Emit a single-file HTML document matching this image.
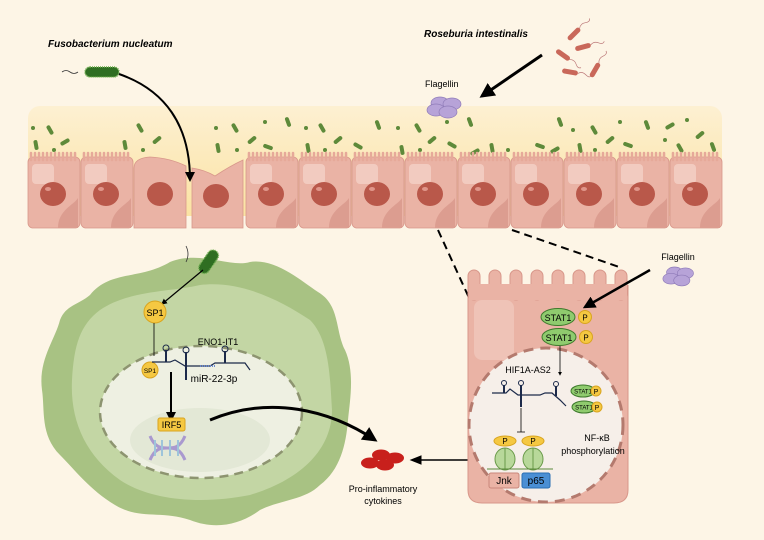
<!DOCTYPE html>
<html><head><meta charset="utf-8"><style>
html,body{margin:0;padding:0;background:#fdf5e6;}
svg{display:block;font-family:"Liberation Sans",sans-serif;}
</style></head><body>
<svg width="764" height="540" viewBox="0 0 764 540">
<defs>
<marker id="ah" viewBox="0 0 10 10" refX="8" refY="5" markerWidth="5" markerHeight="5" orient="auto"><path d="M0,0L10,5L0,10z" fill="#000"/></marker>
<marker id="ahs" viewBox="0 0 10 10" refX="8" refY="5" markerWidth="8" markerHeight="8" orient="auto"><path d="M0,1L10,5L0,9z" fill="#000"/></marker>
<linearGradient id="muc" x1="0" y1="0" x2="0" y2="1"><stop offset="0" stop-color="#fdf0d2"/><stop offset="1" stop-color="#fbe3a3"/></linearGradient>
<g id="cell"><rect x="0" y="157" width="52" height="71" rx="5" fill="#eab3a5" stroke="#d8978a" stroke-width="0.8"/>
<path d="M3,153 v7 M7,153 v7 M11,153 v7 M15,153 v7 M19,153 v7 M23,153 v7 M27,153 v7 M31,153 v7 M35,153 v7 M39,153 v7 M43,153 v7 M47,153 v7" stroke="#e6a999" stroke-width="2.6" stroke-linecap="round"/>
<rect x="4" y="164" width="22" height="20" rx="4" fill="#f2cbc0"/>
<path d="M30,228 C30,210 46,205 50,198 L50,228z" fill="#dc9d90"/>
<ellipse cx="25" cy="194" rx="13" ry="12" fill="#b9584a"/><ellipse cx="20" cy="189" rx="3" ry="2" fill="#e0968a"/></g>
<g id="bac"><rect x="-8" y="-2.5" width="16" height="5" rx="2.5" fill="#c9685a"/><path d="M8,0 q4,-3 8,0 t6,0" stroke="#b77" fill="none" stroke-width="0.7"/></g>
<g id="flag"><ellipse cx="-6" cy="-4" rx="9" ry="6" fill="#b7a3d8" stroke="#8f7bb8" stroke-width="0.7"/><ellipse cx="6" cy="-3" rx="9" ry="6" fill="#b7a3d8" stroke="#8f7bb8" stroke-width="0.7"/><ellipse cx="-10" cy="3" rx="9" ry="6" fill="#b7a3d8" stroke="#8f7bb8" stroke-width="0.7"/><ellipse cx="2" cy="5" rx="9" ry="6" fill="#b7a3d8" stroke="#8f7bb8" stroke-width="0.7"/></g>
<g id="gb"><rect x="-5" y="-2" width="10" height="4" rx="2" fill="#5e8a3a"/></g>
<g id="gd"><circle r="2" fill="#5e8a3a"/></g>
</defs>
<rect width="764" height="540" fill="#fdf5e6"/>
<rect x="28" y="106" width="694" height="110" rx="12" fill="url(#muc)"/>
<g>
<use href="#gb" transform="translate(50,130) rotate(60)"/><use href="#gb" transform="translate(65,142) rotate(-30)"/><use href="#gb" transform="translate(36,145) rotate(80)"/><use href="#gd" transform="translate(33,128)"/><use href="#gd" transform="translate(54,150)"/>
<use href="#gb" transform="translate(140,128) rotate(60)"/><use href="#gb" transform="translate(157,140) rotate(-40)"/><use href="#gb" transform="translate(125,145) rotate(80)"/><use href="#gd" transform="translate(143,150)"/>
<use href="#gb" transform="translate(235,128) rotate(60)"/><use href="#gb" transform="translate(252,140) rotate(-40)"/><use href="#gb" transform="translate(218,148) rotate(80)"/><use href="#gb" transform="translate(268,147) rotate(20)"/><use href="#gd" transform="translate(216,128)"/><use href="#gd" transform="translate(237,150)"/><use href="#gd" transform="translate(265,122)"/>
<use href="#gb" transform="translate(288,122) rotate(70)"/><use href="#gb" transform="translate(308,148) rotate(80)"/><use href="#gb" transform="translate(322,128) rotate(60)"/><use href="#gb" transform="translate(338,140) rotate(-40)"/><use href="#gb" transform="translate(358,146) rotate(30)"/><use href="#gd" transform="translate(306,128)"/><use href="#gd" transform="translate(325,150)"/>
<use href="#gb" transform="translate(378,125) rotate(70)"/><use href="#gb" transform="translate(402,150) rotate(80)"/><use href="#gb" transform="translate(418,128) rotate(60)"/><use href="#gb" transform="translate(432,140) rotate(-40)"/><use href="#gb" transform="translate(452,145) rotate(30)"/><use href="#gd" transform="translate(398,128)"/><use href="#gd" transform="translate(420,150)"/><use href="#gd" transform="translate(447,122)"/>
<use href="#gb" transform="translate(470,122) rotate(70)"/><use href="#gb" transform="translate(492,148) rotate(80)"/><use href="#gb" transform="translate(475,152) rotate(-30)"/><use href="#gb" transform="translate(540,146) rotate(20)"/><use href="#gb" transform="translate(555,150) rotate(-30)"/><use href="#gd" transform="translate(508,150)"/>
<use href="#gb" transform="translate(560,122) rotate(70)"/><use href="#gb" transform="translate(580,148) rotate(80)"/><use href="#gb" transform="translate(594,130) rotate(60)"/><use href="#gb" transform="translate(610,140) rotate(-40)"/><use href="#gb" transform="translate(628,145) rotate(20)"/><use href="#gd" transform="translate(573,130)"/><use href="#gd" transform="translate(595,150)"/><use href="#gd" transform="translate(620,122)"/>
<use href="#gb" transform="translate(647,125) rotate(70)"/><use href="#gb" transform="translate(670,126) rotate(-30)"/><use href="#gb" transform="translate(680,148) rotate(60)"/><use href="#gb" transform="translate(713,147) rotate(70)"/><use href="#gb" transform="translate(700,135) rotate(-40)"/><use href="#gd" transform="translate(665,140)"/><use href="#gd" transform="translate(687,120)"/><use href="#gd" transform="translate(715,160)"/>
</g>
<use href="#cell" transform="translate(28,0)"/>
<use href="#cell" transform="translate(81,0)"/>
<path d="M134,228 V168 Q134,158 150,157 Q170,158 186,166 V228z" fill="#eab3a5" stroke="#d8978a" stroke-width="0.8"/>
<ellipse cx="160" cy="194" rx="13" ry="12" fill="#b9584a"/>
<path d="M192,228 V168 Q205,170 215,176 Q230,166 243,160 V228z" fill="#eab3a5" stroke="#d8978a" stroke-width="0.8"/>
<ellipse cx="216" cy="196" rx="13" ry="12" fill="#b9584a"/>
<use href="#cell" transform="translate(246,0)"/>
<use href="#cell" transform="translate(299,0)"/>
<use href="#cell" transform="translate(352,0)"/>
<use href="#cell" transform="translate(405,0)"/>
<use href="#cell" transform="translate(458,0)"/>
<use href="#cell" transform="translate(511,0)"/>
<use href="#cell" transform="translate(564,0)"/>
<use href="#cell" transform="translate(617,0)"/>
<use href="#cell" transform="translate(670,0)"/>
<text x="48" y="47" font-size="10" font-weight="bold" font-style="italic">Fusobacterium nucleatum</text>
<text x="424" y="37" font-size="10" font-weight="bold" font-style="italic">Roseburia intestinalis</text>
<text x="425" y="87" font-size="9">Flagellin</text>
<use href="#flag" transform="translate(446,107)"/>
<path d="M62,72 q4,-3 8,0 t8,0" stroke="#333" fill="none" stroke-width="0.8"/>
<rect x="85" y="67" width="34" height="10" rx="5" fill="#2f6e22" stroke="#6fb04f" stroke-width="1.5" stroke-dasharray="1 1"/>
<path d="M119,74 C165,90 190,125 190,180" stroke="#000" stroke-width="2" fill="none" marker-end="url(#ah)"/>
<use href="#bac" transform="translate(574,34) rotate(-45)"/><use href="#bac" transform="translate(583,47) rotate(-15)"/>
<use href="#bac" transform="translate(563,55) rotate(35)"/><use href="#bac" transform="translate(570,72) rotate(10)"/><use href="#bac" transform="translate(595,70) rotate(-60)"/>
<path d="M542,55 L482,96" stroke="#000" stroke-width="3" marker-end="url(#ah)"/>
<path d="M438,230 L470,300" stroke="#000" stroke-width="2" stroke-dasharray="8 5"/>
<path d="M512,230 L622,268" stroke="#000" stroke-width="2" stroke-dasharray="8 5"/>
<path d="M90,295 C110,270 140,280 170,262 C200,250 230,268 250,262 C275,258 300,280 318,292 C340,305 335,330 345,350 C355,372 350,400 348,420 C346,445 340,470 320,485 C305,500 280,500 260,510 C240,525 215,530 190,520 C160,510 140,520 115,505 C90,490 75,470 60,455 C40,435 45,410 42,390 C38,360 55,340 60,320 C66,305 78,305 90,295z" fill="#a8c283"/>
<path d="M100,310 C130,290 170,292 200,285 C240,280 280,300 310,320 C330,340 330,380 332,410 C332,450 300,480 250,495 C200,505 150,500 120,480 C85,455 70,420 72,380 C74,345 80,325 100,310z" fill="#c3d6a4"/>
<ellipse cx="201" cy="412" rx="101" ry="66" fill="#eef0e2" stroke="#8d9470" stroke-width="2.5" stroke-dasharray="9 6"/>
<ellipse cx="200" cy="440" rx="70" ry="32" fill="#e3e8d6"/>
<path d="M186,262 q4,-8 0,-16" stroke="#333" fill="none" stroke-width="0.8"/>
<rect x="196" y="256" width="26" height="11" rx="5.5" fill="#2f6e22" stroke="#6fb04f" stroke-width="1.5" stroke-dasharray="1 1" transform="rotate(-55 209 262)"/>
<path d="M203,270 L162,304" stroke="#000" stroke-width="1.2" marker-end="url(#ah)"/>
<circle cx="155" cy="312" r="11" fill="#f5c842" stroke="#d9a520"/>
<text x="155" y="316" font-size="9" text-anchor="middle">SP1</text>
<path d="M154,323 V356" stroke="#000" stroke-width="0.8"/>
<circle cx="150" cy="370" r="8" fill="#f5c842" stroke="#d9a520"/>
<text x="150" y="373" font-size="6.5" text-anchor="middle">SP1</text>
<text x="218" y="345" font-size="9" text-anchor="middle">ENO1-IT1</text>
<path d="M152,362 H170 L175,360 L185,366 H210 L215,363 H245 L250,370" stroke="#1c2a4a" fill="none" stroke-width="1.2"/>
<path d="M166,362 v-12 M186,366 v-14 M186,366 v14 M225,363 v-12" stroke="#1c2a4a" stroke-width="2"/>
<circle cx="166" cy="348" r="3" fill="none" stroke="#1c2a4a"/><circle cx="186" cy="350" r="3" fill="none" stroke="#1c2a4a"/><circle cx="225" cy="349" r="3" fill="none" stroke="#1c2a4a"/>
<path d="M200,366 h15" stroke="#6a8ad0" stroke-width="2" stroke-dasharray="1 1"/>
<text x="214" y="382" font-size="10" text-anchor="middle">miR-22-3p</text>
<path d="M171,372 V420" stroke="#000" stroke-width="2" marker-end="url(#ah)"/>
<rect x="158" y="418" width="27" height="13" rx="2" fill="#f5c842" stroke="#d9a520"/>
<text x="171.5" y="428" font-size="9" text-anchor="middle">IRF5</text>
<g stroke-width="3"><path d="M150,436 C160,460 175,436 185,460 M150,460 C160,436 175,460 185,436" stroke="#a999cf" fill="none"/><path d="M155,440 v16 M162,440 v16 M170,440 v16 M178,440 v16" stroke="#9ec4da" stroke-width="2"/></g>
<path d="M210,420 C270,395 330,410 375,440" stroke="#000" stroke-width="3" fill="none" marker-end="url(#ah)"/>
<g fill="#c8201c"><ellipse cx="370" cy="463" rx="9" ry="5.5"/><ellipse cx="381" cy="455" rx="9" ry="5.5"/><ellipse cx="395" cy="458" rx="9" ry="5.5"/><ellipse cx="385" cy="465" rx="9" ry="5.5"/></g>
<text x="383" y="492" font-size="9" text-anchor="middle">Pro-inflammatory</text>
<text x="383" y="504" font-size="9" text-anchor="middle">cytokines</text>
<path d="M492,460 L412,460" stroke="#000" stroke-width="1.5" marker-end="url(#ahs)"/>
<path d="M468,285 V490 Q468,503 482,503 H614 Q628,503 628,490 V285" fill="#eab3a5" stroke="#d8978a"/>
<g fill="#eab3a5" stroke="#d8978a"><rect x="468" y="270" width="12" height="30" rx="6"/><rect x="489" y="270" width="12" height="30" rx="6"/><rect x="510" y="270" width="12" height="30" rx="6"/><rect x="531" y="270" width="12" height="30" rx="6"/><rect x="552" y="270" width="12" height="30" rx="6"/><rect x="573" y="270" width="12" height="30" rx="6"/><rect x="594" y="270" width="12" height="30" rx="6"/><rect x="615" y="270" width="12" height="30" rx="6"/></g>
<rect x="469" y="284" width="158" height="16" fill="#eab3a5"/>
<rect x="474" y="300" width="40" height="60" rx="8" fill="#efc3b7"/>
<circle cx="546" cy="425" r="77" fill="#f6efe9" stroke="#b47a6e" stroke-width="3" stroke-dasharray="10 7"/>
<ellipse cx="558" cy="317" rx="17" ry="8.5" fill="#8fcb6e" stroke="#3e7a2c"/><text x="558" y="321" font-size="9" text-anchor="middle">STAT1</text>
<circle cx="585" cy="317" r="6.5" fill="#f5c842" stroke="#d9a520"/><text x="585" y="320.5" font-size="8" text-anchor="middle">P</text>
<ellipse cx="559" cy="337" rx="17" ry="8.5" fill="#8fcb6e" stroke="#3e7a2c"/><text x="559" y="341" font-size="9" text-anchor="middle">STAT1</text>
<circle cx="586" cy="337" r="6.5" fill="#f5c842" stroke="#d9a520"/><text x="586" y="340.5" font-size="8" text-anchor="middle">P</text>
<path d="M560,346 V375" stroke="#000" stroke-width="0.8" marker-end="url(#ah)"/>
<path d="M650,270 L585,307" stroke="#000" stroke-width="2.5" marker-end="url(#ah)"/>
<text x="678" y="260" font-size="9" text-anchor="middle">Flagellin</text>
<use href="#flag" transform="translate(680,276) scale(0.9)"/>
<text x="528" y="373" font-size="9" text-anchor="middle">HIF1A-AS2</text>
<path d="M492,393 H506 L510,389 L518,395 H540 L545,393 H552 L560,400 L566,406" stroke="#1c2a4a" fill="none" stroke-width="1.2"/>
<path d="M504,393 v-8 M521,395 v-10 M521,395 v12 M556,396 v-10" stroke="#1c2a4a" stroke-width="2"/>
<circle cx="504" cy="383" r="2.5" fill="none" stroke="#1c2a4a"/><circle cx="521" cy="383" r="2.5" fill="none" stroke="#1c2a4a"/><circle cx="556" cy="384" r="2.5" fill="none" stroke="#1c2a4a"/>
<ellipse cx="583" cy="391" rx="12" ry="6" fill="#8fcb6e" stroke="#3e7a2c"/><text x="583" y="393.5" font-size="6" text-anchor="middle">STAT1</text>
<circle cx="596" cy="391" r="5" fill="#f5c842" stroke="#d9a520"/><text x="596" y="394" font-size="7" text-anchor="middle">P</text>
<ellipse cx="584" cy="407" rx="12" ry="6" fill="#8fcb6e" stroke="#3e7a2c"/><text x="584" y="409.5" font-size="6" text-anchor="middle">STAT1</text>
<circle cx="597" cy="407" r="5" fill="#f5c842" stroke="#d9a520"/><text x="597" y="410" font-size="7" text-anchor="middle">P</text>
<path d="M521,408 V432 M517,432 h8" stroke="#000" stroke-width="0.8"/>
<text x="597" y="441" font-size="9" text-anchor="middle">NF-κB</text>
<text x="593" y="454" font-size="9" text-anchor="middle">phosphorylation</text>
<ellipse cx="505" cy="441" rx="11" ry="5" fill="#f5c842" stroke="#d9a520"/><text x="505" y="444" font-size="8" text-anchor="middle">P</text>
<ellipse cx="533" cy="441" rx="11" ry="5" fill="#f5c842" stroke="#d9a520"/><text x="533" y="444" font-size="8" text-anchor="middle">P</text>
<ellipse cx="505" cy="459" rx="10" ry="11" fill="#b8d89a" stroke="#6a9a4a"/><path d="M505,448 v22" stroke="#6a9a4a"/>
<ellipse cx="533" cy="459" rx="10" ry="11" fill="#b8d89a" stroke="#6a9a4a"/><path d="M533,448 v22" stroke="#6a9a4a"/>
<path d="M487,469 H553" stroke="#5a8a3a" stroke-width="1"/>
<rect x="489" y="473" width="30" height="15" rx="2" fill="#eab3a5" stroke="#c9877a"/><text x="504" y="484" font-size="10" text-anchor="middle">Jnk</text>
<rect x="522" y="473" width="28" height="15" rx="2" fill="#4a8fd4" stroke="#2a6fb4"/><text x="536" y="484" font-size="10" text-anchor="middle">p65</text>
</svg>
</body></html>
